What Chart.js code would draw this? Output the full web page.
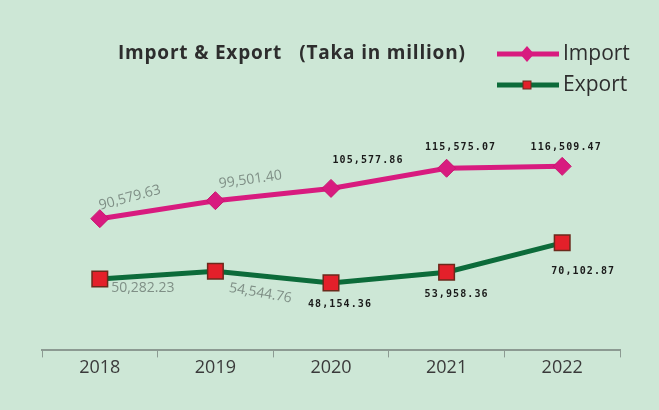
<!DOCTYPE html>
<html>
<head>
<meta charset="utf-8">
<script src="https://cdn.jsdelivr.net/npm/chart.js@4.4.0/dist/chart.umd.min.js"></script>
<style>
  html, body { margin: 0; padding: 0; background: #cde7d6; }
  #wrap { width: 659px; height: 410px; }
</style>
</head>
<body>
<div id="wrap"><canvas id="chart" width="659" height="410"></canvas></div>
<script>
// Import / export figures, Taka in million
var years = ['2018', '2019', '2020', '2021', '2022'];
var importValues = [90579.63, 99501.40, 105577.86, 115575.07, 116509.47];
var exportValues = [50282.23, 54544.76, 48154.36, 53958.36, 70102.87];

var titleText = 'Import & Export   (Taka in million)';

// label placement: [dx, dy, angle in degrees, style]
var importLabelPos = [[30, -21, -15, 'soft'], [35, -21, -8, 'soft'], [37, -28, 0, 'hard'], [14, -21, 0, 'hard'], [4, -19, 0, 'hard']];
var exportLabelPos = [[43, 9, 0, 'soft'], [45, 22, 10, 'soft'], [9, 22, 0, 'hard'], [10, 22, 0, 'hard'], [21, 29, 0, 'hard']];

function fmt(v) {
  return v.toLocaleString('en-US', { minimumFractionDigits: 2, maximumFractionDigits: 2 });
}

var labelPlugin = {
  id: 'valueLabels',
  afterDatasetsDraw: function (chart) {
    var ctx = chart.ctx;
    var sets = [[0, importLabelPos], [1, exportLabelPos]];
    sets.forEach(function (s) {
      var meta = chart.getDatasetMeta(s[0]);
      var data = chart.data.datasets[s[0]].data;
      meta.data.forEach(function (pt, i) {
        var p = s[1][i];
        ctx.save();
        ctx.translate(pt.x + p[0], pt.y + p[1]);
        ctx.rotate(p[2] * Math.PI / 180);
        ctx.textAlign = 'center';
        ctx.textBaseline = 'middle';
        if (p[3] === 'soft') {
          ctx.font = '14px "Open Sans", sans-serif';
          ctx.fillStyle = '#7f8f86';
        } else {
          ctx.font = 'bold 10px "DejaVu Sans Mono", monospace';
          ctx.letterSpacing = '1.1px';
          ctx.fillStyle = '#1a1a1a';
        }
        ctx.fillText(fmt(data[i]), 0, 0);
        ctx.restore();
      });
    });
  }
};

var headerPlugin = {
  id: 'header',
  afterDraw: function (chart) {
    var ctx = chart.ctx;
    ctx.save();
    ctx.font = 'bold 19px "Open Sans", sans-serif';
    ctx.letterSpacing = '0.8px';
    ctx.fillStyle = '#2d2d2d';
    ctx.textBaseline = 'middle';
    ctx.fillText(titleText, 118, 54);
    ctx.letterSpacing = '0px';

    // legend entries
    var entries = [
      { y: 54, label: 'Import', color: '#d81b7f', marker: 'diamond' },
      { y: 85, label: 'Export', color: '#0c6b3a', marker: 'square' }
    ];
    entries.forEach(function (e) {
      ctx.strokeStyle = e.color;
      ctx.lineWidth = 5;
      ctx.beginPath();
      ctx.moveTo(497, e.y);
      ctx.lineTo(559, e.y);
      ctx.stroke();
      if (e.marker === 'diamond') {
        ctx.fillStyle = e.color;
        ctx.beginPath();
        ctx.moveTo(527, e.y - 8);
        ctx.lineTo(534, e.y);
        ctx.lineTo(527, e.y + 8);
        ctx.lineTo(520, e.y);
        ctx.closePath();
        ctx.fill();
      } else {
        ctx.fillStyle = '#e3202a';
        ctx.strokeStyle = '#6b2a1c';
        ctx.lineWidth = 1;
        ctx.fillRect(523, e.y - 4, 8, 8);
        ctx.strokeRect(523, e.y - 4, 8, 8);
      }
      ctx.fillStyle = '#2d2d2d';
      ctx.font = '21px "Open Sans", sans-serif';
      ctx.fillText(e.label, 563, e.y);
    });
    ctx.restore();
  }
};

var ctx = document.getElementById('chart').getContext('2d');
new Chart(ctx, {
  type: 'line',
  data: {
    labels: years,
    datasets: [
      {
        label: 'Import',
        data: importValues,
        yAxisID: 'yImport',
        borderColor: '#d81b7f',
        backgroundColor: '#d81b7f',
        borderWidth: 5,
        pointStyle: 'rectRot',
        pointRadius: 9,
        pointBorderWidth: 1,
        pointBorderColor: '#c8166f',
        tension: 0
      },
      {
        label: 'Export',
        data: exportValues,
        yAxisID: 'yExport',
        borderColor: '#0c6b3a',
        backgroundColor: '#e3202a',
        borderWidth: 5,
        pointStyle: 'rect',
        pointRadius: 11,
        pointBorderWidth: 1.5,
        pointBorderColor: '#6b2a1c',
        tension: 0
      }
    ]
  },
  options: {
    responsive: false,
    animation: false,
    layout: { padding: { top: 100, left: 42, right: 39, bottom: 31 } },
    plugins: {
      legend: { display: false },
      tooltip: { enabled: false }
    },
    scales: {
      x: {
        offset: true,
        grid: {
          offset: true,
          drawOnChartArea: false,
          drawTicks: true,
          tickLength: 7,
          color: '#8c9a92'
        },
        border: { color: '#8c9a92', width: 2 },
        ticks: {
          color: '#3a3a3a',
          font: { family: '"Open Sans", sans-serif', size: 18 },
          padding: 0
        }
      },
      yImport: {
        display: false,
        min: 25256,
        max: 149420
      },
      yExport: {
        display: false,
        min: 11192,
        max: 148283
      }
    }
  },
  plugins: [labelPlugin, headerPlugin]
});
</script>
</body>
</html>
